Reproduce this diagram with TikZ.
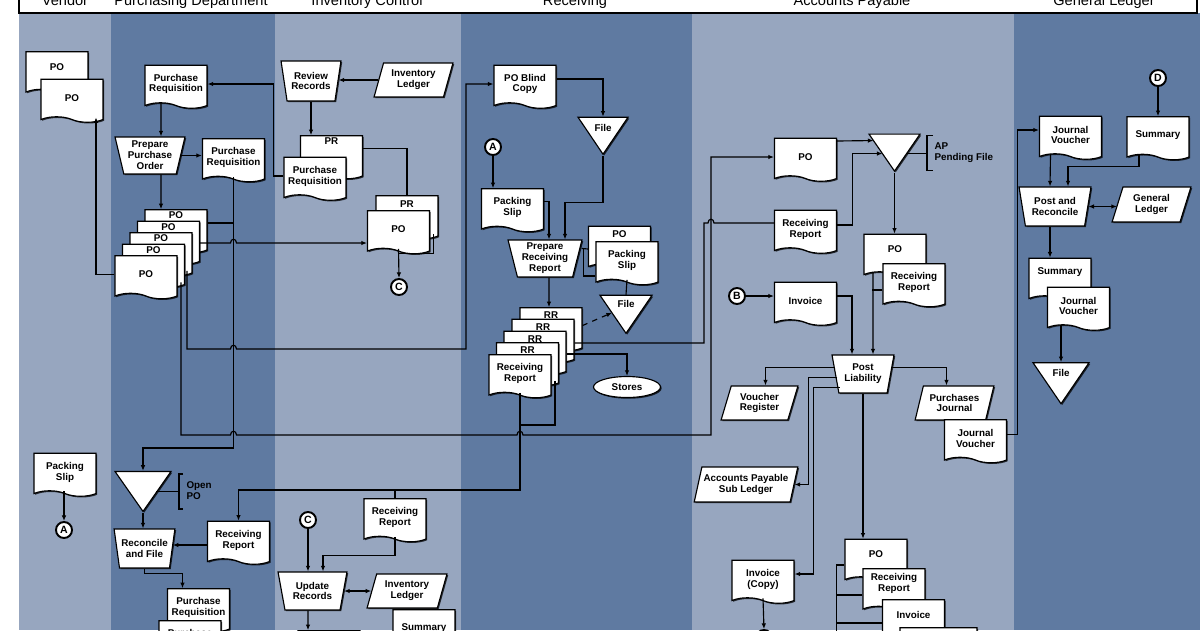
\documentclass[tikz,border=0pt]{standalone}
\usepackage{fontspec}
\setmainfont{Liberation Sans}
\usepackage{tikz}
\usetikzlibrary{shapes.geometric, shapes.symbols, arrows.meta, positioning, calc, shadows}
\definecolor{lanelight}{HTML}{97A6BF}
\definecolor{lanedark}{HTML}{5F7AA1}

\begin{document}
\begin{tikzpicture}[
    x=0.02cm, y=-0.02cm,
    line width=0.65pt,
    >={Latex[length=3.2pt,width=2.6pt]},
    docfont/.style={font=\fontsize{5.6}{6.2}\selectfont\bfseries},
    docshadow/.style={drop shadow={shadow xshift=0.7pt, shadow yshift=-0.7pt, fill=black, opacity=0.75}},
    doc/.style={tape, tape bend top=none, tape bend bottom=out and in, tape bend height=0.11cm,
        draw, fill=white, docshadow, docfont, align=center, inner sep=1pt,
        minimum width=1.24cm, minimum height=0.86cm},
    backtxt/.style={docfont, align=center, anchor=north, inner sep=0pt},
    manual/.style={trapezium, trapezium left angle=104, trapezium right angle=104, trapezium stretches,
        draw, fill=white, docshadow, docfont, align=center, inner sep=1pt},
    ledger/.style={trapezium, trapezium left angle=72, trapezium right angle=108, trapezium stretches,
        draw, fill=white, docshadow, docfont, align=center, inner sep=1pt, minimum height=0.68cm},
    filetri/.style={isosceles triangle, shape border rotate=270, isosceles triangle stretches,
        draw, fill=white, docshadow, inner sep=0pt},
    conn/.style={circle, draw, line width=1.1pt, fill=white, minimum size=0.32cm, inner sep=0pt,
        font=\fontsize{6}{6}\selectfont\bfseries},
    store/.style={ellipse, draw, fill=white, docshadow, docfont, minimum width=1.34cm,
        minimum height=0.42cm, inner sep=0pt},
    note/.style={docfont, align=left, anchor=west, inner sep=0pt},
    title/.style={font=\fontsize{8.3}{9}\selectfont, anchor=base}
]
\useasboundingbox (0,0) rectangle (1200,630);
\clip (0,0) rectangle (1200,630);

% -- swim lanes --
\fill[white] (0,0) rectangle (1200,630);
\fill[lanelight] (19,13) rectangle (111,630);
\fill[lanedark] (111,13) rectangle (275,630);
\fill[lanelight] (275,13) rectangle (461,630);
\fill[lanedark] (461,13) rectangle (692,630);
\fill[lanelight] (692,13) rectangle (1014,630);
\fill[lanedark] (1014,13) rectangle (1200,630);
\draw[line width=0.9pt] (19,0) -- (19,13) -- (1197,13) -- (1197,0);

\node[title] (tven) at (65,5) {Vendor};
\node[title] (tpur) at (191,5) {Purchasing Department};
\node[title] (tinv) at (367,5) {Inventory Control};
\node[title] (trec) at (575,5) {Receiving};
\node[title] (tap) at (852,5) {Accounts Payable};
\node[title] (tgl) at (1104,5) {General Ledger};

% -- VENDOR --
\node[doc, label={[backtxt, yshift=-6.5pt]north:PO}] (vpo1) at (57,70.5) {};
\node[doc] (vpo2) at (72,98) {PO};
\node[doc] (vps) at (65,472) {Packing\\Slip};
\node[conn] (cA1) at (64,530) {A};

% -- PURCHASING DEPARTMENT --
\node[doc] (ppr1) at (176,84) {Purchase\\Requisition};
\node[manual, minimum width=1.4cm, minimum height=0.74cm] (pppo) at (150,155.5) {Prepare\\Purchase\\Order};
\node[doc] (ppr2) at (233.5,157.5) {Purchase\\Requisition};
\node[doc, label={[backtxt, yshift=-1.2pt]north:PO}] (po1) at (176,228.5) {};
\node[doc, label={[backtxt, yshift=-1.2pt]north:PO}] (po2) at (168.5,240) {};
\node[doc, label={[backtxt, yshift=-1.2pt]north:PO}] (po3) at (161,251.5) {};
\node[doc, label={[backtxt, yshift=-1.2pt]north:PO}] (po4) at (153.5,263) {};
\node[doc] (po5) at (146,274.5) {PO};
\node[filetri, minimum width=1.12cm, minimum height=0.8cm] (opo) at (143,486) {};
\node[note] (oponote) at (186,491) {Open\\PO};
\node[manual, minimum width=1.18cm, minimum height=0.78cm] (prf) at (144.5,548.5) {Reconcile\\and File};
\node[doc] (prr) at (238.5,540) {Receiving\\Report};
\node[doc] (ppr3) at (198.5,607.5) {Purchase\\Requisition};
\node[doc] (ppr4) at (190,639.5) {Purchase\\Requisition};

% -- INVENTORY CONTROL --
\node[manual, minimum width=1.2cm, minimum height=0.8cm] (irr) at (311,81) {Review\\Records};
\node[ledger, minimum width=1.58cm] (ilg) at (413.5,80) {Inventory\\Ledger};
\node[doc, label={[backtxt, yshift=-1.4pt]north:PR}] (ipr1) at (331.5,154.5) {};
\node[doc] (ipr2) at (315,176) {Purchase\\Requisition};
\node[doc, label={[backtxt, yshift=-3.1pt]north:PR}] (ipr3) at (407,214.5) {};
\node[doc] (ipo) at (398.5,229.5) {PO};
\node[conn] (cC1) at (399,287) {C};
\node[doc] (irr2) at (395,517.5) {Receiving\\Report};
\node[conn] (cC2) at (308,520) {C};
\node[manual, minimum width=1.38cm, minimum height=0.76cm] (iur) at (312.5,591) {Update\\Records};
\node[ledger, minimum width=1.6cm] (ilg2) at (407,591) {Inventory\\Ledger};
\node[doc] (ism) at (424,628.5) {Summary};
\node[doc] (iout) at (329,649.5) {};

% -- RECEIVING --
\node[doc] (rbc) at (525,84) {PO Blind\\Copy};
\node[filetri, minimum width=1.0cm, minimum height=0.74cm, label={[backtxt, yshift=-4.3pt]north:File}] (rf1) at (603,130.5) {};
\node[conn] (cA2) at (493,147) {A};
\node[doc] (rps) at (512.5,207.5) {Packing\\Slip};
\node[manual, minimum width=1.48cm, minimum height=0.74cm] (rprr) at (545,258.5) {Prepare\\Receiving\\Report};
\node[doc, label={[backtxt, yshift=-2.5pt]north:PO}] (rpo) at (619.5,245) {};
\node[doc] (rps2) at (627,260.5) {Packing\\Slip};
\node[filetri, minimum width=1.04cm, minimum height=0.76cm, label={[backtxt, yshift=-3.1pt]north:File}] (rf2) at (626,309) {};
\node[doc, label={[backtxt, yshift=-2.3pt]north:RR}] (rr1) at (551,326.5) {};
\node[doc, label={[backtxt, yshift=-2.3pt]north:RR}] (rr2) at (543,338) {};
\node[doc, label={[backtxt, yshift=-2.3pt]north:RR}] (rr3) at (535,350) {};
\node[doc, label={[backtxt, yshift=-2.3pt]north:RR}] (rr4) at (527.5,361.5) {};
\node[doc] (rrr) at (520,373.5) {Receiving\\Report};
\node[store] (rst) at (627,387) {Stores};

% -- ACCOUNTS PAYABLE --
\node[doc] (apo) at (805.5,157) {PO};
\node[doc] (arr) at (805.5,229) {Receiving\\Report};
\node[filetri, minimum width=1.02cm, minimum height=0.74cm] (apf) at (894.5,147.5) {};
\node[note] (apnote) at (934,152.5) {AP\\Pending File};
\node[doc, label={[backtxt, yshift=-6.5pt]north:PO}] (apo2) at (895,253) {};
\node[doc] (arr2) at (914,282.5) {Receiving\\Report};
\node[conn] (cB) at (737,296) {B};
\node[doc] (ainv) at (805.5,301) {Invoice};
\node[manual, minimum width=1.24cm, minimum height=0.76cm] (apl) at (863,374) {Post\\Liability};
\node[ledger, minimum width=1.54cm] (avr) at (759.5,403) {Voucher\\Register};
\node[ledger, minimum width=1.58cm] (apj) at (954.5,403) {Purchases\\Journal};
\node[doc] (ajv) at (975.5,438.5) {Journal\\Voucher};
\node[ledger, minimum width=2.08cm, minimum height=0.7cm] (asl) at (746,484.5) {Accounts Payable\\Sub Ledger};
\node[doc] (aic) at (763,579) {Invoice\\(Copy)};
\node[conn] (cE) at (764,638) {};
\node[doc, label={[backtxt, yshift=-6.5pt]north:PO}] (apo3) at (876,558) {};
\node[doc, label={[backtxt, yshift=-2.5pt]north:Receiving\\Report}] (arr3) at (894,587.5) {};
\node[doc, label={[backtxt, yshift=-6.5pt]north:Invoice}] (ainv2) at (913.5,618.5) {};
\node[doc, minimum width=1.54cm] (ax) at (938.5,646.5) {};

% -- GENERAL LEDGER --
\node[conn] (cD) at (1158,78) {D};
\node[doc] (gjv) at (1070.5,135) {Journal\\Voucher};
\node[doc] (gsm) at (1158,135.5) {Summary};
\node[manual, minimum width=1.44cm, minimum height=0.78cm] (gpr) at (1055,206.5) {Post and\\Reconcile};
\node[ledger, minimum width=1.58cm, minimum height=0.7cm] (ggl) at (1151.5,204.5) {General\\Ledger};
\node[doc, label={[backtxt, yshift=-5.4pt]north:Summary}] (gsm2) at (1060,277) {};
\node[doc] (gjv2) at (1078.5,306) {Journal\\Voucher};
\node[filetri, minimum width=1.12cm, minimum height=0.82cm, label={[backtxt, yshift=-3.7pt]north:File}] (gf) at (1061,377.5) {};

% -- flows: vendor and purchasing --
\draw[->] (po5.west) -| ($(vpo2.south)+(24,0)$);
\draw[->] (vps.south -| cA1) -- (cA1.north);
\draw[->] ($(ppr1.south)+(-15,0)$) -- ($(pppo.north)+(11,0)$);
\draw[->] (pppo.east) -- (pppo.east -| ppr2.west);
\draw[->] ($(pppo.south)+(11,0)$) -- ($(po1.north)+(-15,0)$);
\draw[->] (ipr2.west) -- ++(-10,0) |- (ppr1.east);
\draw[->] (ppr2.south) -- (ppr2.south |- 0,448) -| (opo.lower side);
\draw ($(po1.east)+(0,-5.5)$) -- (ppr2.south |- 0,223);
\draw[->] ($(po2.east)+(0,3)$) -- (230.5,243) .. controls (230.5,238) and (236.5,238) .. (236.5,243) -- (ipo.west |- 0,243);
\draw[->] (po3.south -| 187,0) -- (187,349) -- (230.5,349) .. controls (230.5,344) and (236.5,344) .. (236.5,349) -- (466,349) |- (rbc.west);
\draw[->] (po4.south -| 181,0) -- (181,435) -- (230.5,435) .. controls (230.5,430) and (236.5,430) .. (236.5,435) -- (517,435) .. controls (517,430) and (523,430) .. (523,435) -- (711,435) |- (apo.west);
\draw[->] (opo.apex) -- (opo.apex |- prf.north);
\draw ($(opo.lower side)+(13,21)$) -- ++(22.5,0);
\draw ($(oponote.west)+(-3,-17)$) -- ++(-4,0) -- ++(0,35) -- ++(4,0);
\draw[->] ($(prr.west)+(0,5)$) -- ($(prf.east)+(0,-3.5)$);
\draw[->] (prf.south) -- ++(0,5) -| ($(ppr3.north)+(-16,0)$);

% -- flows: inventory control --
\draw[->] (ilg.west) -- (ilg.west -| irr.east);
\draw[->] (irr.south) -- (irr.south |- ipr1.north);
\draw ($(ipr1.east)+(0,-6)$) -| (ipr3.north);
\draw[->] (ipo.south) -- (cC1.north);
\draw ($(ipr3.south east)+(-5,0)$) |- ($(ipo.south)+(0,5)$);
\draw[->] (cC2.south) -- (cC2.south |- iur.north);
\draw[->] (irr2.south) -- ++(0,19) -| ($(iur.north)+(10.5,0)$);
\draw[<->] (iur.east) -- (iur.east -| ilg2.west);
\draw[->] ($(iur.south)+(-4.5,0)$) -- (iout.north -| 308,0);

% -- flows: receiving --
\draw[->] ($(rbc.east)+(0,-5)$) -| (rf1.lower side);
\draw[->] (rf1.apex) -- ++(0,47) -| ($(rprr.north)+(20,0)$);
\draw[->] (cA2.south) -- (cA2.south |- rps.north);
\draw[->] ($(rps.east)+(0,-6)$) -| ($(rprr.north)+(4,0)$);
\draw ($(rprr.top right corner)+(-1,9)$) -- (rpo.west |- 0,249);
\draw ($(rprr.top right corner)+(1,9)$) |- (rps2.west |- 0,276);
\draw[->] ($(rprr.south)+(4,0)$) -- ($(rr1.north)+(-2,0)$);
\draw (rps2.south) -- (rf2.lower side);
\draw[->, dashed] ($(rr1.east)+(0,-1)$) -- ($(rf2.lower side)+(-14,18)$);
\draw ($(rr2.east)+(0,5)$) -- (704,343) -- (704,223) -- (708,223) .. controls (708,218) and (714,218) .. (714,223) -- (arr.west |- 0,223);
\draw[->] ($(rr3.east)+(0,4)$) -| (rst.north);
\draw[->] (rrr.south) -- (rrr.south |- 0,490) -| (prr.north);
\draw (irr2.north |- 0,490) -- (irr2.north);
\draw ($(rr4.south)+(27.5,0)$) |- (rrr.south |- 0,425);

% -- flows: accounts payable --
\draw[->] ($(apo.east)+(0,-16)$) -- ($(apf.lower side)+(-21,7)$);
\draw[->] ($(arr.east)+(0,-4)$) -- ++(15,0) |- ($(apf.lower side)+(-12,20)$);
\draw ($(apf.lower side)+(12,20)$) -- ++(20.5,0);
\draw ($(apnote.west)+(-1,-17)$) -- ++(-6,0) -- ++(0,35) -- ++(6,0);
\draw[->] (apf.apex) -- (apf.apex |- apo2.north);
\draw[->] (cB.east) -- (cB.east -| ainv.west);
\draw[->] ($(ainv.east)+(0,-5)$) -| ($(apl.north)+(-11,0)$);
\draw[->] ($(apo2.south)+(-22,0)$) -- ($(apl.north)+(10,0)$);
\draw ($(arr2.west)+(0,7.5)$) -- ++(-10,0);
\draw[->] ($(apl.top left corner)+(3,13)$) -| ($(avr.north)+(6,0)$);
\draw[->] ($(apl.top left corner)+(6,23)$) -- ++(-29,0) |- (asl.east);
\draw[->] ($(apl.top left corner)+(8.5,33)$) -- ++(-26,0) |- ($(aic.east)+(0,-5)$);
\draw[->] ($(apl.top right corner)+(-3,13)$) -| ($(apj.north)+(-8,0)$);
\draw[->] ($(ajv.east)+(0,-4)$) -- ++(10,0) |- ($(gjv.west)+(0,-5)$);
\draw[->] (apl.south) -- (apl.south |- apo3.north);
\draw ($(apo3.west)+(0,7)$) -- ++(-8,0) -- ++(0,90);
\draw ($(arr3.west)+(0,7.5)$) -- ++(-26,0);
\draw ($(ainv2.west)+(0,4.5)$) -- ++(-46,0);
\draw[->] (aic.south) -- (cE.north);

% -- flows: general ledger --
\draw[->] (cD.south) -- (cD.south |- gsm.north);
\draw[->] ($(gjv.south)+(-20,0)$) -- ($(gpr.north)+(-5,0)$);
\draw[->] ($(gsm.south)+(-19,0)$) -- ++(0,12) -| ($(gpr.north)+(13,0)$);
\draw[<->] (gpr.east) -- (gpr.east -| ggl.west);
\draw[->] ($(gpr.south)+(-5,0)$) -- ++(0,31);
\draw[->] (gjv2.south -| gf.lower side) -- (gf.lower side);

\end{tikzpicture}
\end{document}
